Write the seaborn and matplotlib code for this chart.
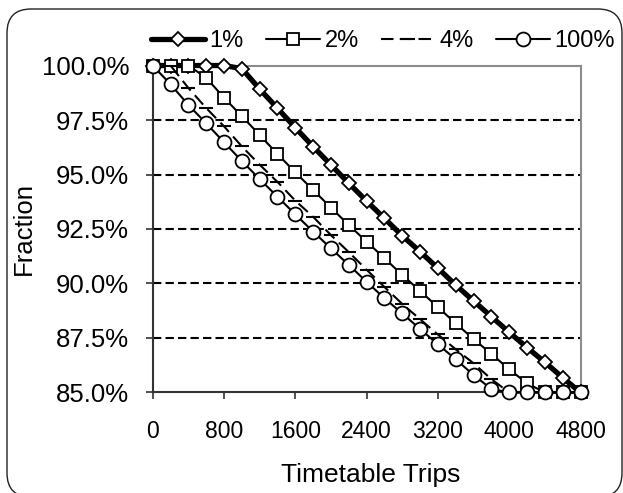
import matplotlib
matplotlib.use("Agg")
import matplotlib.pyplot as plt
import seaborn as sns
from matplotlib.patches import FancyBboxPatch
from matplotlib.transforms import IdentityTransform
from matplotlib.ticker import FuncFormatter

# timetable trips (x) and fraction (%) for each series
trips = [0, 200, 400, 600, 800, 1000, 1200, 1400, 1600, 1800, 2000, 2200, 2400,
         2600, 2800, 3000, 3200, 3400, 3600, 3800, 4000, 4200, 4400, 4600, 4800]

frac_1 = [100, 100, 100, 100, 100, 99.86, 98.92, 98.04, 97.15, 96.28, 95.44, 94.60,
          93.78, 92.99, 92.19, 91.46, 90.70, 89.93, 89.20, 88.48, 87.76, 87.06,
          86.39, 85.68, 85.0]
frac_2 = [100, 100, 100, 99.44, 98.52, 97.68, 96.81, 95.94, 95.10, 94.29, 93.48,
          92.68, 91.92, 91.16, 90.39, 89.66, 88.91, 88.17, 87.45, 86.77, 86.06,
          85.42, 85.0, 85.0, 85.0]
frac_4 = [100, 100, 98.97, 98.05, 97.21, 96.29, 95.45, 94.66, 93.80, 93.06, 92.22,
          91.44, 90.63, 89.84, 89.06, 88.36, 87.66, 86.98, 86.34, 85.61, 85.0,
          85.0, 85.0, 85.0, 85.0]
frac_100 = [100, 99.14, 98.19, 97.35, 96.48, 95.62, 94.79, 93.98, 93.17, 92.38,
            91.61, 90.85, 90.08, 89.32, 88.63, 87.91, 87.21, 86.52, 85.80, 85.16,
            85.0, 85.0, 85.0, 85.0, 85.0]

x_ticks = [0, 800, 1600, 2400, 3200, 4000, 4800]
y_ticks = [85.0, 87.5, 90.0, 92.5, 95.0, 97.5, 100.0]

sns.set_style("white")
plt.rcParams['font.family'] = ['Liberation Sans', 'DejaVu Sans']
plt.rcParams['text.color'] = 'black'
plt.rcParams['axes.labelcolor'] = 'black'
plt.rcParams['xtick.color'] = 'black'
plt.rcParams['ytick.color'] = 'black'

fig = plt.figure(figsize=(6.23, 4.93), dpi=100)
ax = fig.add_axes([0.2451, 0.2039, 0.6867, 0.6632])

common = dict(ax=ax, color='black', errorbar=None, clip_on=False,
              markerfacecolor='white', markeredgecolor='black')

sns.lineplot(x=trips, y=frac_1, linewidth=3.8, marker='D', markersize=7,
             markeredgewidth=1.3, label='1%', zorder=3, **common)
sns.lineplot(x=trips, y=frac_2, linewidth=1.5, marker='s', markersize=8,
             markeredgewidth=1.3, label='2%', zorder=4, **common)
sns.lineplot(x=trips, y=frac_4, linewidth=1.5, linestyle=(0, (6, 3)), marker='_',
             markersize=10, markeredgewidth=1.5, label='4%', zorder=5, **common)
sns.lineplot(x=trips, y=frac_100, linewidth=1.5, marker='o', markersize=10,
             markeredgewidth=1.3, label='100%', zorder=6, **common)

ax.set_xlim(0, 4800)
ax.set_ylim(85, 100)
ax.set_xticks(x_ticks)
ax.set_yticks(y_ticks)
ax.yaxis.set_major_formatter(FuncFormatter(lambda v, p: f"{v:.1f}%"))

for v in y_ticks[1:-1]:
    ax.axhline(v, color='black', linewidth=1.5, linestyle=(0, (4, 2)), zorder=1)

for side in ['left', 'bottom']:
    ax.spines[side].set_color('#333333')
    ax.spines[side].set_linewidth(1.5)
for side in ['top', 'right']:
    ax.spines[side].set_color('#8c8c8c')
    ax.spines[side].set_linewidth(1.5)

ax.tick_params(axis='both', direction='out', length=5, width=1.2, color='#333333',
               labelcolor='black', left=True, bottom=True)
ax.tick_params(axis='y', pad=12, labelsize=18.5)
ax.tick_params(axis='x', pad=15, labelsize=16.5)

ax.set_xlabel('Timetable Trips', fontsize=19)
ax.set_ylabel('Fraction', fontsize=18.5)
ax.xaxis.set_label_coords(0.51, -0.215)
ax.yaxis.set_label_coords(-0.272, 0.5)

handles, labels = ax.get_legend_handles_labels()
ax.legend(handles, labels, loc='center', bbox_to_anchor=(383 / 623, 1 - 41 / 493),
          bbox_transform=fig.transFigure, ncol=4, frameon=False, fontsize=17,
          handlelength=2.3, handletextpad=0.17, columnspacing=0.95)

# rounded chart border
border = FancyBboxPatch((7, -4), 615, 488, boxstyle="round,pad=0,rounding_size=24",
                        transform=IdentityTransform(), facecolor='none',
                        edgecolor='#222222', linewidth=1.0)
fig.patches.append(border)

fig.savefig('out.png', dpi=100)
